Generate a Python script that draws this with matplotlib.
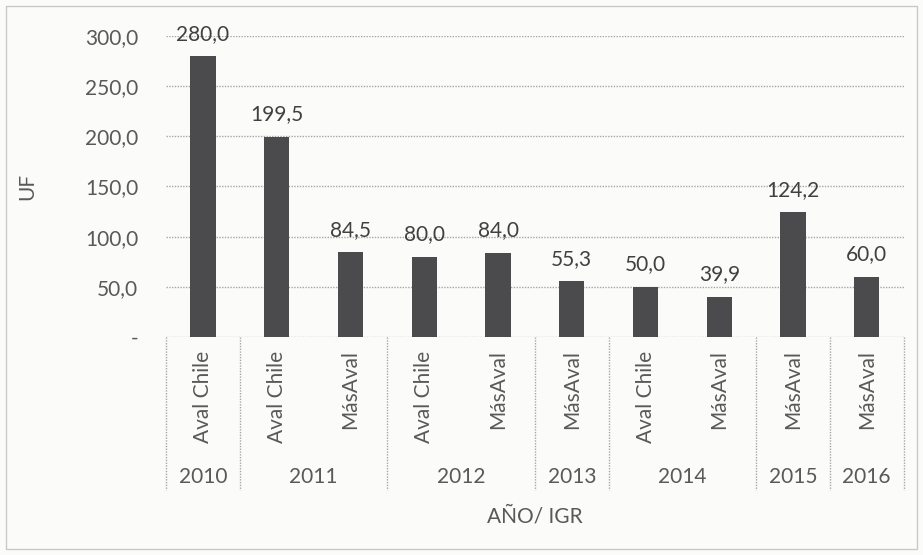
import matplotlib.pyplot as plt
from matplotlib.patches import Rectangle

# data
years = ['2010', '2011', '2012', '2013', '2014', '2015', '2016']
group_sizes = [1, 2, 2, 1, 2, 1, 1]
igr = ['Aval Chile', 'Aval Chile', 'MásAval', 'Aval Chile', 'MásAval',
       'MásAval', 'Aval Chile', 'MásAval', 'MásAval', 'MásAval']
uf = [280.0, 199.5, 84.5, 80.0, 84.0, 55.3, 50.0, 39.9, 124.2, 60.0]
yticks = [0, 50, 100, 150, 200, 250, 300]

plt.rcParams['font.family'] = ['Lato', 'DejaVu Sans']
txt = '#595959'
grid_c = '#a6a6a6'
fs = 15

fig = plt.figure(figsize=(9.23, 5.55), dpi=100, facecolor='#fbfbf9')
fig.patches.append(Rectangle((0.006, 0.01), 0.988, 0.98, transform=fig.transFigure,
                             fill=False, edgecolor='#c8c8c8', linewidth=1))
ax = fig.add_axes([0.18, 0.393, 0.799, 0.542])
ax.set_facecolor('none')

x = list(range(len(uf)))
ax.bar(x, uf, width=0.34, color='#4b4b4d', zorder=3)
for xi, v in zip(x, uf):
    ax.annotate(f'{v:.1f}'.replace('.', ','), (xi, v), xytext=(0, 9),
                textcoords='offset points', ha='center', va='bottom',
                fontsize=fs, color='#404040')

ax.set_xlim(-0.5, len(uf) - 0.5)
ax.set_ylim(0, 300)
ax.set_yticks(yticks)
ax.set_yticklabels(['-' if t == 0 else f'{t:.1f}'.replace('.', ',') for t in yticks],
                   fontsize=fs, color=txt)
ax.yaxis.grid(True, color=grid_c, linestyle=(0, (1, 1)), linewidth=1)
ax.tick_params(axis='y', length=0, pad=20)
ax.tick_params(axis='x', length=0, labelbottom=False)
for s in ax.spines.values():
    s.set_visible(False)

# category labels and year groups below the axis
tr = ax.get_xaxis_transform()
for xi, name in zip(x, igr):
    ax.text(xi, -0.045, name, rotation=90, ha='center', va='top',
            fontsize=fs, color=txt, transform=tr)
bounds = [-0.5]
for n in group_sizes:
    bounds.append(bounds[-1] + n)
for b in bounds:
    ax.plot([b, b], [0, -0.51], color=grid_c, linestyle=(0, (1, 1)),
            linewidth=1, transform=tr, clip_on=False)
for i, yr in enumerate(years):
    ax.text((bounds[i] + bounds[i + 1]) / 2, -0.465, yr, ha='center', va='center',
            fontsize=fs, color=txt, transform=tr)

ax.set_xlabel('AÑO/ IGR', fontsize=fs, color=txt, labelpad=0)
ax.xaxis.set_label_coords(0.5, -0.565)
ax.set_ylabel('UF', fontsize=fs, color=txt)
ax.yaxis.set_label_coords(-0.175, 0.5)

fig.savefig('out.png', dpi=100, facecolor=fig.get_facecolor())
